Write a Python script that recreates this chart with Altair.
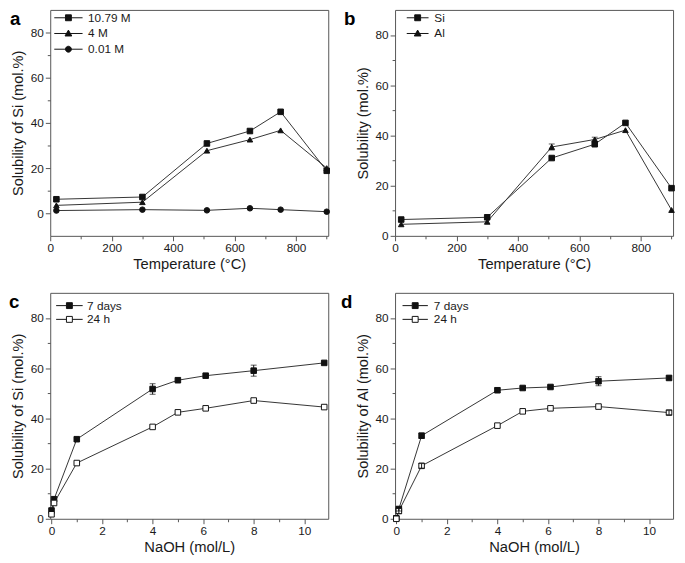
import altair as alt
import pandas as pd

# ---------------- data ----------------
temp = [20, 300, 510, 650, 750, 900]
a_names = ["10.79 M", "4 M", "0.01 M"]
a_1079 = [6.2, 7.2, 30.9, 36.4, 44.9, 18.8]
a_4m = [3.5, 4.9, 27.7, 32.6, 36.7, 20.0]
a_001 = [1.2, 1.6, 1.3, 2.2, 1.6, 0.7]

b_names = ["Si", "Al"]
b_si = [6.5, 7.4, 31.0, 36.5, 45.0, 19.0]
b_si_err = [0.4, 0.4, 0.5, 0.5, 0.5, 0.5]
b_al = [4.6, 5.6, 35.4, 38.4, 42.1, 10.3]
b_al_err = [0.4, 0.4, 1.2, 0.9, 0.5, 0.5]

naoh = [0, 0.1, 1, 4, 5, 6.1, 8, 10.79]
cd_names = ["7 days", "24 h"]
c_7d = [3.3, 7.8, 31.7, 51.7, 55.2, 57.0, 59.0, 62.1]
c_7d_err = [0.5, 0.5, 0.5, 2.1, 0.5, 0.5, 2.2, 0.5]
c_24h = [1.8, 6.3, 22.2, 36.6, 42.4, 44.0, 47.1, 44.5]
c_24h_err = [0.5, 0.5, 0.5, 0.5, 0.5, 0.5, 0.5, 0.5]
d_7d = [0.2, 3.9, 33.1, 51.2, 52.1, 52.5, 54.8, 56.1]
d_7d_err = [0.3, 0.8, 1.0, 0.9, 0.6, 0.6, 1.8, 0.7]
d_24h = [0.0, 3.1, 21.1, 37.1, 42.8, 44.0, 44.7, 42.3]
d_24h_err = [0.4, 1.0, 0.9, 0.5, 0.5, 0.5, 0.4, 0.8]

FONT = "Liberation Sans"
INK = "#1a1a1a"
FRAME = "#555555"
LINE = "#333333"


def frame(xs, series, names, errs=None):
    rows = []
    for i, (name, ys) in enumerate(zip(names, series)):
        for j, (x, y) in enumerate(zip(xs, ys)):
            e = errs[i][j] if errs else 0.0
            rows.append({"x": x, "y": y, "s": name, "lo": y - e, "hi": y + e, "e": e})
    return pd.DataFrame(rows)


def sym(marker, half):
    line = f"M{-half},0H{half}"
    if marker == "square":
        return f"M{-half},0H-1M1,0H{half}M-1,-1H1V1H-1Z"
    if marker == "triangle":
        return line + "M0,-1.15L1.15,0.85H-1.15Z"
    return line + "M1,0A1,1,0,1,1,-1,0A1,1,0,1,1,1,0Z"


def panel(df, names, shapes, fills, markers, half, letter, letter_dx,
          xtitle, ytitle, xdom, xvals, xmod, ydom, yvals, ymod,
          leg_x, leg_y, lab_off, row_pad, W=283, H=230):
    xs = alt.Scale(domain=xdom, nice=False, zero=False)
    ys = alt.Scale(domain=ydom, nice=False, zero=False)
    xax = alt.Axis(
        title=xtitle, values=xvals, grid=False, domain=False,
        labelExpr=f"datum.value % {xmod} === 0 ? datum.label : ''",
        tickSize={"condition": {"test": f"datum.value % {xmod} === 0", "value": 5}, "value": 3},
        titleFontSize=15, titlePadding=3, labelPadding=2, labelFlush=False,
        labelFontSize=12, labelFont=FONT, titleFont=FONT,
    )
    yax = alt.Axis(
        title=ytitle, values=yvals, grid=False, domain=False,
        labelExpr=f"datum.value % {ymod} === 0 ? datum.label : ''",
        tickSize={"condition": {"test": f"datum.value % {ymod} === 0", "value": 5}, "value": 3},
        titleFontSize=14.8, titlePadding=5, labelPadding=2, labelFlush=False,
        labelFontSize=12, labelFont=FONT, titleFont=FONT,
    )
    X = alt.X("x:Q", scale=xs, axis=xax)
    Y = alt.Y("y:Q", scale=ys, axis=yax)
    base = alt.Chart(df)
    line = base.mark_line(color=LINE, strokeWidth=1).encode(x=X, y=Y, detail="s:N")
    pts = base.mark_point(opacity=1, stroke="#111111", strokeWidth=1, size=32).encode(
        x=X, y=Y,
        shape=alt.Shape("s:N", scale=alt.Scale(domain=names, range=shapes), legend=None),
        fill=alt.Fill("s:N", scale=alt.Scale(domain=names, range=fills), legend=None),
    )
    layers = [line, pts]
    if df["e"].max() > 0:
        eb = base.transform_filter("datum.e > 0.55")
        rule = eb.mark_rule(color="#111111", strokeWidth=1).encode(
            x=X, y=alt.Y("lo:Q", scale=ys, axis=yax), y2="hi:Q")
        cap_lo = eb.mark_tick(orient="horizontal", size=6, thickness=1, color="#111111").encode(
            x=X, y=alt.Y("lo:Q", scale=ys, axis=yax))
        cap_hi = eb.mark_tick(orient="horizontal", size=6, thickness=1, color="#111111").encode(
            x=X, y=alt.Y("hi:Q", scale=ys, axis=yax))
        layers += [rule, cap_lo, cap_hi]
    paths = [sym(m, half) for m in markers]
    leg = alt.Legend(
        orient="none", legendX=leg_x, legendY=leg_y, title=None, padding=0,
        symbolSize=36, symbolStrokeWidth=1, symbolStrokeColor="#111111",
        labelFont=FONT, labelFontSize=12, labelColor=INK, labelOffset=lab_off,
        rowPadding=row_pad, symbolOpacity=1,
    )
    legend_layer = base.transform_filter("false").mark_point(opacity=1, strokeWidth=1).encode(
        shape=alt.Shape("s:N", scale=alt.Scale(domain=names, range=paths), legend=leg),
        fill=alt.Fill("s:N", scale=alt.Scale(domain=names, range=fills), legend=leg),
        stroke=alt.Stroke("s:N", scale=alt.Scale(domain=names, range=["#111111"] * len(names)), legend=leg),
    )
    layers.append(legend_layer)
    lt = alt.Chart(pd.DataFrame({"t": [letter]})).mark_text(
        font="Liberation Sans", fontWeight="bold", fontSize=19, align="left",
        baseline="alphabetic", color="#000000",
    ).encode(text="t:N", x=alt.value(letter_dx), y=alt.value(15))
    layers.append(lt)
    return alt.layer(*layers).resolve_scale(
        shape="independent", fill="independent", stroke="independent"
    ).properties(width=W, height=H)


df_a = frame(temp, [a_1079, a_4m, a_001], a_names)
df_b = frame(temp, [b_si, b_al], b_names, [b_si_err, b_al_err])
df_c = frame(naoh, [c_7d, c_24h], cd_names, [c_7d_err, c_24h_err])
df_d = frame(naoh, [d_7d, d_24h], cd_names, [d_7d_err, d_24h_err])

t_vals = list(range(100, 901, 100)) + [0]
n_vals = list(range(0, 11))

pa = panel(df_a, a_names, ["square", "triangle-up", "circle"], ["#111111"] * 3,
           ["square", "triangle", "circle"], 4.8, "a", -41,
           "Temperature (°C)", "Solubility of Si (mol.%)", [0, 905], t_vals, 200,
           [-10, 90], list(range(0, 81, 10)), 20, 12.5, 2, 14, 4)
pb = panel(df_b, b_names, ["square", "triangle-up"], ["#111111"] * 2,
           ["square", "triangle"], 3.7, "b", -52,
           "Temperature (°C)", "Solubility (mol.%)", [0, 905], t_vals, 200,
           [0, 90], list(range(0, 81, 10)), 20, 17, 2, 11, 4)
pc = panel(df_c, cd_names, ["square", "square"], ["#111111", "#ffffff"],
           ["square", "square"], 4.5, "c", -42,
           "NaOH (mol/L)", "Solubility of Si (mol.%)", [-0.05, 10.95], n_vals, 2,
           [0, 90], list(range(0, 81, 10)), 20, 13.5, 7, 12, 2)
pd_ = panel(df_d, cd_names, ["square", "square"], ["#111111", "#ffffff"],
            ["square", "square"], 4.3, "d", -55,
            "NaOH (mol/L)", "Solubility of Al (mol.%)", [-0.05, 10.95], n_vals, 2,
            [0, 90], list(range(0, 81, 10)), 20, 14.5, 7, 13, 2)

row1 = alt.hconcat(pa, pb, spacing=11)
row2 = alt.hconcat(pc, pd_, spacing=10)
chart = alt.vconcat(row1, row2, spacing=20).properties(
    padding={"top": -4, "left": 0, "right": 0, "bottom": 0}, background="#ffffff"
).configure_view(
    stroke=FRAME, strokeWidth=1
).configure_axis(
    labelFont=FONT, labelFontSize=12, labelColor=INK, titleFont=FONT,
    titleFontWeight="normal", titleColor=INK, tickColor=FRAME, tickWidth=1,
)

chart.save("out.html", embed_options={"renderer": "svg", "actions": False})
